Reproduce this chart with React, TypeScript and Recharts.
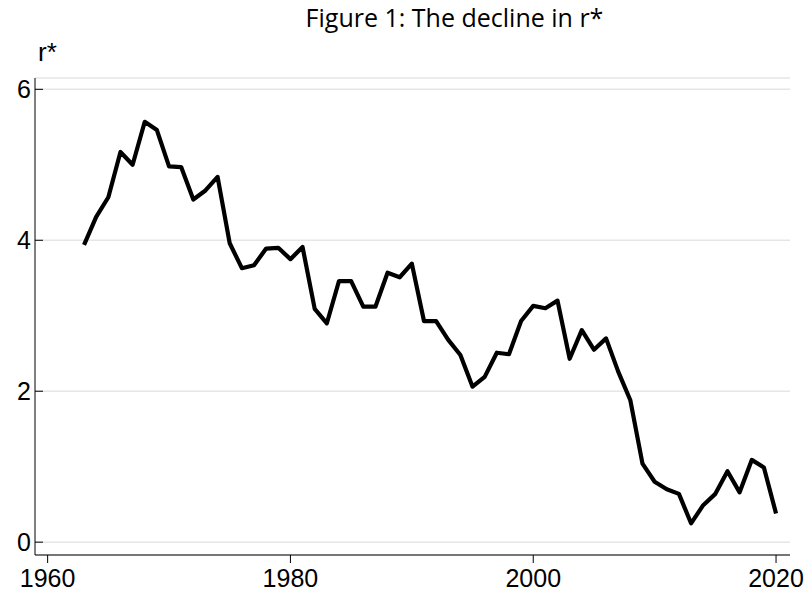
import React from 'react';
import { LineChart, Line, XAxis, YAxis, CartesianGrid } from 'recharts';

const years: number[] = [
  1963, 1964, 1965, 1966, 1967, 1968, 1969, 1970, 1971, 1972, 1973, 1974, 1975, 1976, 1977, 1978, 1979,
  1980, 1981, 1982, 1983, 1984, 1985, 1986, 1987, 1988, 1989, 1990, 1991, 1992, 1993, 1994, 1995, 1996,
  1997, 1998, 1999, 2000, 2001, 2002, 2003, 2004, 2005, 2006, 2007, 2008, 2009, 2010, 2011, 2012, 2013,
  2014, 2015, 2016, 2017, 2018, 2019, 2020,
];
const rStar: number[] = [
  3.94, 4.31, 4.57, 5.17, 5.0, 5.57, 5.46, 4.98, 4.97, 4.54, 4.66, 4.84, 3.96, 3.63, 3.67, 3.89, 3.9,
  3.75, 3.91, 3.09, 2.9, 3.46, 3.46, 3.12, 3.12, 3.57, 3.51, 3.69, 2.93, 2.93, 2.68, 2.48, 2.06, 2.19,
  2.51, 2.49, 2.93, 3.13, 3.1, 3.2, 2.43, 2.81, 2.55, 2.7, 2.26, 1.88, 1.04, 0.8, 0.7, 0.64, 0.25,
  0.49, 0.64, 0.94, 0.66, 1.09, 0.99, 0.38,
];
const xTicks: number[] = [1960, 1980, 2000, 2020];
const yTicks: number[] = [0, 2, 4, 6];
const titleText = 'Figure 1: The decline in r*';
const yLabel = 'r*';

const data = years.map((y, i) => ({ year: y, r: rStar[i] }));

const TICK_FONT = '"Liberation Sans", Arial, sans-serif';
const Y_MARGIN = 4;

const YTick = (props: any) => {
  const { x, y, payload } = props;
  const axisX = x + Y_MARGIN;
  return (
    <g>
      <line x1={axisX} x2={axisX + 8} y1={y} y2={y} stroke="#000" strokeWidth={1} />
      <text x={x} y={y} dy="0.36em" textAnchor="end" fontSize={25} fontFamily={TICK_FONT} fill="#000">
        {payload.value}
      </text>
    </g>
  );
};

export default function App() {
  return (
    <div style={{ position: 'absolute', left: 0, top: 0, width: 809, height: 591, background: '#fff' }}>
      <div
        style={{
          position: 'absolute',
          left: 0,
          width: 909,
          top: 0,
          textAlign: 'center',
          fontFamily: '"Open Sans", sans-serif',
          fontSize: 25,
          color: '#000',
          lineHeight: '34px',
          whiteSpace: 'nowrap',
        }}
      >
        {titleText}
      </div>
      <div
        style={{
          position: 'absolute',
          left: 38,
          top: 37,
          fontFamily: TICK_FONT,
          fontSize: 26,
          color: '#000',
          lineHeight: '30px',
        }}
      >
        {yLabel}
      </div>
      <LineChart width={809} height={591} data={data} margin={{ top: 78, right: 19, bottom: 0, left: 5 }}>
        <CartesianGrid horizontal vertical={false} stroke="#e6e6e6" strokeWidth={1.5} />
        <XAxis
          dataKey="year"
          type="number"
          domain={[1958.96, 2021.15]}
          ticks={xTicks}
          allowDataOverflow
          height={36}
          tickSize={8}
          tickMargin={6}
          axisLine={{ stroke: '#000', strokeWidth: 1 }}
          tickLine={{ stroke: '#000', strokeWidth: 1 }}
          tick={{ fontSize: 25, fontFamily: TICK_FONT, fill: '#000' }}
        />
        <YAxis
          type="number"
          domain={[-0.17, 6.15]}
          ticks={yTicks}
          allowDataOverflow
          width={30}
          tickSize={0}
          tickMargin={Y_MARGIN}
          tickLine={false}
          axisLine={{ stroke: '#000', strokeWidth: 1 }}
          tick={<YTick />}
        />
        <Line
          type="linear"
          dataKey="r"
          stroke="#000"
          strokeWidth={4.2}
          dot={false}
          isAnimationActive={false}
          strokeLinejoin="round"
        />
      </LineChart>
    </div>
  );
}
